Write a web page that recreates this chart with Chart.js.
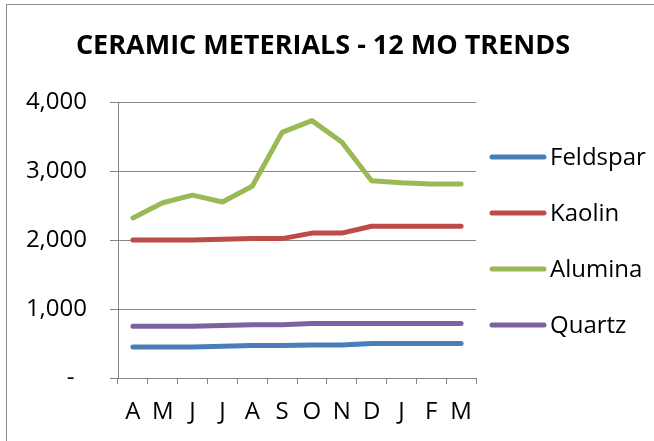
<!DOCTYPE html>
<html>
<head>
<meta charset="utf-8">
<script src="https://cdn.jsdelivr.net/npm/chart.js@4/dist/chart.umd.min.js"></script>
<style>
  html, body { margin: 0; padding: 0; background: #fff; }
  #wrap { position: relative; width: 654px; height: 441px; overflow: hidden; }
  #frame { position: absolute; left: 6px; top: 4px; width: 700px; height: 500px;
           border-left: 1px solid #8c8c8c; border-top: 1px solid #8c8c8c; }
  canvas { position: absolute; left: 0; top: 0; }
</style>
</head>
<body>
<div id="wrap">
  <div id="frame"></div>
  <canvas id="c" width="654" height="441"></canvas>
</div>
<script>
// Month initials, April through March
const months = ['A', 'M', 'J', 'J', 'A', 'S', 'O', 'N', 'D', 'J', 'F', 'M'];

const feldspar = [450, 450, 450, 460, 470, 470, 480, 480, 500, 500, 500, 500];
const kaolin   = [2000, 2000, 2000, 2010, 2020, 2020, 2100, 2100, 2200, 2200, 2200, 2200];
const alumina  = [2320, 2540, 2650, 2550, 2780, 3560, 3730, 3420, 2860, 2830, 2810, 2810];
const quartz   = [750, 750, 750, 760, 770, 770, 790, 790, 790, 790, 790, 790];

const seriesNames  = ['Feldspar', 'Kaolin', 'Alumina', 'Quartz'];
const seriesValues = [feldspar, kaolin, alumina, quartz];
const seriesColors = ['#4A7EBB', '#BE4B48', '#98B954', '#7D60A0'];

const yTicks = [0, 1000, 2000, 3000, 4000];

const chartTitle = 'CERAMIC METERIALS - 12 MO TRENDS';
const FONT = '"Open Sans", "Liberation Sans", sans-serif';
const AXIS_GREY = '#868686';

// Title and side legend drawn on the canvas
const decorations = {
  id: 'decorations',
  afterDraw(chart) {
    const ctx = chart.ctx;
    ctx.save();
    ctx.fillStyle = '#000';
    ctx.font = 'bold 27px ' + FONT;
    ctx.textAlign = 'center';
    ctx.textBaseline = 'middle';
    ctx.fillText(chartTitle, 323, 46);

    ctx.font = '24px ' + FONT;
    ctx.textAlign = 'left';
    chart.data.datasets.forEach((ds, i) => {
      const y = 157 + i * 56;
      ctx.strokeStyle = ds.borderColor;
      ctx.lineWidth = 5;
      ctx.lineCap = 'round';
      ctx.beginPath();
      ctx.moveTo(492, y);
      ctx.lineTo(544, y);
      ctx.stroke();
      ctx.fillStyle = '#000';
      ctx.fillText(ds.label, 550, y + 1);
    });
    ctx.restore();
  }
};

new Chart(document.getElementById('c'), {
  type: 'line',
  data: {
    labels: months,
    datasets: seriesNames.map((name, i) => ({
      label: name,
      data: seriesValues[i],
      borderColor: seriesColors[i],
      backgroundColor: seriesColors[i],
      borderWidth: 5,
      borderCapStyle: 'round',
      borderJoinStyle: 'round',
      pointRadius: 0,
      tension: 0,
      fill: false
    }))
  },
  options: {
    responsive: false,
    animation: false,
    devicePixelRatio: 1,
    layout: { padding: { left: 0, top: 102, right: 178, bottom: 0 } },
    plugins: {
      legend: { display: false },
      title: { display: false },
      tooltip: { enabled: false }
    },
    scales: {
      x: {
        offset: true,
        grid: {
          offset: true,
          drawOnChartArea: false,
          drawTicks: true,
          tickLength: 6,
          color: AXIS_GREY,
          lineWidth: 1
        },
        border: { color: AXIS_GREY, width: 1 },
        ticks: {
          color: '#000',
          font: { family: FONT, size: 24 },
          padding: 14,
          maxRotation: 0,
          autoSkip: false
        },
        afterFit(scale) { scale.height = 63; }
      },
      y: {
        min: 0,
        max: 4000,
        afterBuildTicks(scale) { scale.ticks = yTicks.map(v => ({ value: v })); },
        grid: {
          color: AXIS_GREY,
          lineWidth: 1,
          drawTicks: true,
          tickLength: 8
        },
        border: { color: AXIS_GREY, width: 1 },
        ticks: {
          color: '#000',
          font: { family: FONT, size: 24 },
          padding: 23,
          callback: v => v === 0 ? '-  ' : v.toLocaleString('en-US')
        },
        afterFit(scale) { scale.width = 118; }
      }
    }
  },
  plugins: [decorations]
});
</script>
</body>
</html>
